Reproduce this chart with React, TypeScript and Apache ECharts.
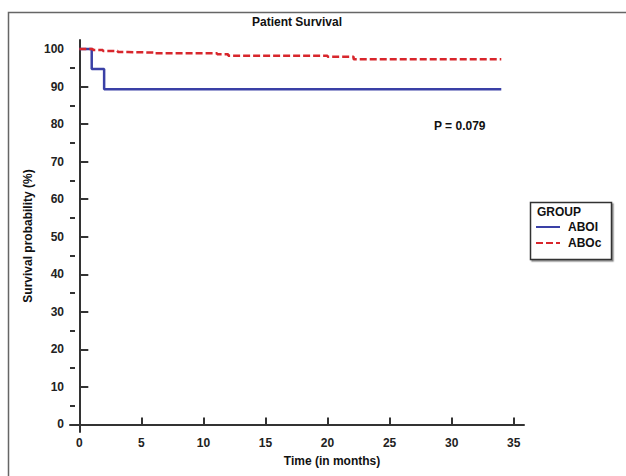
import React, { useEffect, useRef } from 'react';
import * as echarts from 'echarts';

const chartTitle = 'Patient Survival';
const xTitle = 'Time (in months)';
const yTitle = 'Survival probability (%)';
const pValueText = 'P = 0.079';
const legendTitle = 'GROUP';
const groupNames = ['ABOI', 'ABOc'];

const xTicks = [0, 5, 10, 15, 20, 25, 30, 35];
const yTicks = [0, 10, 20, 30, 40, 50, 60, 70, 80, 90, 100];
const yMinorTicks = [5, 15, 25, 35, 45, 55, 65, 75, 85, 95];

const aboiTime = [0, 1, 2, 34];
const aboiSurv = [100, 94.7, 89.3, 89.3];

const abocTime = [0, 1.1, 1.9, 3.1, 3.9, 6, 11.1, 12, 20, 22.1, 34];
const abocSurv = [100, 99.73, 99.47, 99.2, 99.05, 98.86, 98.6, 98.2, 97.95, 97.3, 97.3];

const FONT = '"Liberation Sans", Arial, sans-serif';

export default function App() {
  const ref = useRef<HTMLDivElement>(null);
  useEffect(() => {
    if (!ref.current) return;
    const chart = echarts.init(ref.current, null, { renderer: 'svg' });
    const axisColor = '#333';
    const labelStyle = { color: '#222', fontFamily: FONT, fontWeight: 'bold' as const, fontSize: 12 };
    chart.setOption({
      animation: false,
      backgroundColor: '#fff',
      grid: { left: 70, top: 40, width: 454, height: 392, containLabel: false },
      xAxis: {
        type: 'value',
        min: -0.75,
        max: 35.83,
        splitLine: { show: false },
        axisLine: { show: true, lineStyle: { color: axisColor, width: 2 } },
        axisTick: { show: true, inside: true, length: 7, customValues: xTicks, lineStyle: { color: axisColor, width: 2 } },
        axisLabel: { ...labelStyle, margin: 5, customValues: xTicks },
      },
      yAxis: [
        {
          type: 'value',
          min: -2,
          max: 102.4,
          splitLine: { show: false },
          axisLine: { show: true, lineStyle: { color: axisColor, width: 2 } },
          axisTick: { show: true, inside: true, length: 9, customValues: yTicks, lineStyle: { color: axisColor, width: 2 } },
          axisLabel: { ...labelStyle, margin: 6, customValues: yTicks },
        },
        {
          type: 'value',
          position: 'left',
          min: -2,
          max: 102.4,
          splitLine: { show: false },
          axisLine: { show: false },
          axisTick: { show: true, inside: true, length: 5, customValues: yMinorTicks, lineStyle: { color: axisColor, width: 2 } },
          axisLabel: { show: false, customValues: yMinorTicks },
        },
      ],
      legend: {
        data: groupNames,
        orient: 'vertical',
        left: 535,
        top: 221,
        itemWidth: 24,
        itemHeight: 8,
        itemGap: 4,
        padding: 0,
        itemStyle: { opacity: 0 },
        textStyle: { ...labelStyle, color: '#111', fontSize: 12, padding: [0, 0, 0, 3] },
      },
      series: [
        {
          name: groupNames[0],
          type: 'line',
          step: 'end',
          symbol: 'none',
          data: aboiTime.map((t, i) => [t, aboiSurv[i]]),
          lineStyle: { color: '#3a40a6', width: 2.5 },
          itemStyle: { color: '#3a40a6' },
        },
        {
          name: groupNames[1],
          type: 'line',
          step: 'end',
          symbol: 'none',
          data: abocTime.map((t, i) => [t, abocSurv[i]]),
          lineStyle: { color: '#d8262c', width: 2.5, type: [7, 3] },
          itemStyle: { color: '#d8262c' },
        },
      ],
      graphic: [
        {
          type: 'rect',
          shape: { x: 8.5, y: 12.5, width: 700, height: 600 },
          style: { fill: 'none', stroke: '#666', lineWidth: 1.5 },
          silent: true,
        },
        {
          type: 'text',
          x: 297,
          y: 22,
          style: { text: chartTitle, font: `bold 12px ${FONT}`, fill: '#111', textAlign: 'center', textVerticalAlign: 'middle' },
        },
        {
          type: 'text',
          x: 332,
          y: 461,
          style: { text: xTitle, font: `bold 12px ${FONT}`, fill: '#111', textAlign: 'center', textVerticalAlign: 'middle' },
        },
        {
          type: 'text',
          x: 28,
          y: 236,
          rotation: Math.PI / 2,
          style: { text: yTitle, font: `bold 12px ${FONT}`, fill: '#111', textAlign: 'center', textVerticalAlign: 'middle' },
        },
        {
          type: 'text',
          x: 434,
          y: 126,
          style: { text: pValueText, font: `bold 12px ${FONT}`, fill: '#111', textAlign: 'left', textVerticalAlign: 'middle' },
        },
        {
          type: 'rect',
          shape: { x: 530.5, y: 202.5, width: 81, height: 57 },
          style: { fill: '#fff', stroke: '#333', lineWidth: 1.5, shadowColor: 'rgba(0,0,0,0.45)', shadowOffsetX: 1.5, shadowOffsetY: 1.5, shadowBlur: 0 },
          z: -1,
          silent: true,
        },
        {
          type: 'text',
          x: 537,
          y: 212,
          style: { text: legendTitle, font: `bold 12px ${FONT}`, fill: '#111', textAlign: 'left', textVerticalAlign: 'middle' },
        },
      ],
    });
    return () => chart.dispose();
  }, []);
  return <div ref={ref} style={{ position: 'fixed', left: 0, top: 0, width: 626, height: 476 }} />;
}
